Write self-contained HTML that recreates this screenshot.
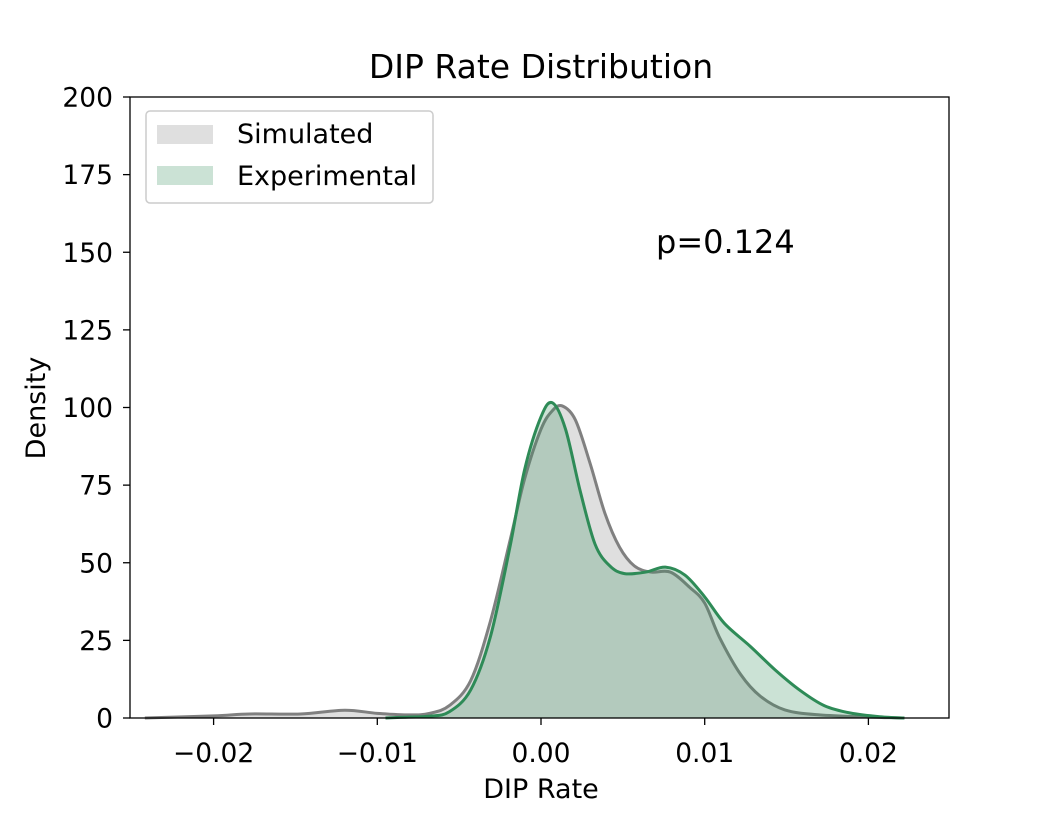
<!DOCTYPE html>
<html><head><meta charset="utf-8"><style>
body{margin:0;background:#fff;}
svg text{font-family:"DejaVu Sans","Liberation Sans",sans-serif;}
</style></head><body>
<svg id="chart" width="1056" height="808" viewBox="0 0 1056 808">
<rect width="1056" height="808" fill="#fff"/>
<g id="marks"></g>
<rect x="130" y="97" width="819" height="621" fill="none" stroke="#000" stroke-width="1.3"/>
<g id="xticks"></g><g id="yticks"></g>
<text x="541" y="78" font-size="33" text-anchor="middle">DIP Rate Distribution</text>
<text x="541" y="798" font-size="27" text-anchor="middle">DIP Rate</text>
<text transform="translate(45,408) rotate(-90)" font-size="27" text-anchor="middle">Density</text>
<text x="656" y="253" font-size="32">p=0.124</text>
<g>
<rect x="146" y="111" width="287" height="92" rx="4" fill="#fff" stroke="#ccc" stroke-width="1.5"/>
<g>
<rect x="157" y="125" width="56" height="19" fill="#808080" fill-opacity="0.25"/>
<text x="237" y="143" font-size="27">Simulated</text></g>
<g>
<rect x="157" y="166" width="56" height="19" fill="#2e8b57" fill-opacity="0.25"/>
<text x="237" y="185" font-size="27">Experimental</text></g>
</g>
</svg>
<script>
const simX=[-0.0242,-0.020,-0.0178,-0.0147,-0.012,-0.010,-0.008,-0.0068,-0.0056,-0.0043,-0.0031,-0.0019,-0.001,0,0.0007,0.0013,0.0021,0.003,0.0039,0.0048,0.0057,0.0067,0.0079,0.0091,0.010,0.0109,0.0122,0.0134,0.0149,0.017,0.0201,0.0222];
const simY=[0,0.7,1.3,1.3,2.5,1.5,1,1.5,4,12,31,57,77,93,99,100.5,96,82,66,55,49,47,47,42,37,26,14,7,2.6,1,0.3,0];
const expX=[-0.0095,-0.0086,-0.0068,-0.0056,-0.0043,-0.0031,-0.0019,-0.001,0,0.0007,0.0015,0.0024,0.0033,0.0042,0.0051,0.0064,0.0076,0.0088,0.010,0.0112,0.0128,0.0143,0.0158,0.0173,0.0189,0.0207,0.0222];
const expY=[0,0.2,0.6,2,9,26,55,80,97,101.5,93,73,56,49,46.5,47,48.6,46,39,30.5,23,15.5,9,4,1.6,0.4,0];
const xTicks=[-0.02,-0.01,0,0.01,0.02];
const xTickLabels=["\u22120.02","\u22120.01","0.00","0.01","0.02"];
const yTicks=[0,25,50,75,100,125,150,175,200];
const NS="http://www.w3.org/2000/svg";
const xs=v=>541+v*16370;
const ys=v=>718-v*3.105;
function smooth(pts){let d="M"+pts[0][0]+","+pts[0][1];
for(let i=0;i<pts.length-1;i++){const p0=pts[Math.max(0,i-1)],p1=pts[i],p2=pts[i+1],p3=pts[Math.min(pts.length-1,i+2)];
const c1=[p1[0]+(p2[0]-p0[0])/6,p1[1]+(p2[1]-p0[1])/6],c2=[p2[0]-(p3[0]-p1[0])/6,p2[1]-(p3[1]-p1[1])/6];
d+=" C"+c1[0].toFixed(2)+","+Math.min(718,c1[1]).toFixed(2)+" "+c2[0].toFixed(2)+","+Math.min(718,c2[1]).toFixed(2)+" "+p2[0].toFixed(2)+","+p2[1].toFixed(2);}
return d;}
const marks=document.getElementById('marks');
function series(X,Y,color,name){const pts=X.map((x,i)=>[xs(x),ys(Y[i])]);const d=smooth(pts);
const f=document.createElementNS(NS,'path');f.setAttribute('d',d+" L"+pts[pts.length-1][0]+",718 L"+pts[0][0]+",718 Z");
f.setAttribute('fill',color);f.setAttribute('fill-opacity','0.25');


marks.appendChild(f);
const l=document.createElementNS(NS,'path');l.setAttribute('d',d);l.setAttribute('fill','none');l.setAttribute('stroke',color);l.setAttribute('stroke-width','3');


marks.appendChild(l);}
series(simX,simY,'#808080','simulated');
series(expX,expY,'#2e8b57','experimental');
const xg=document.getElementById('xticks');
xTicks.forEach((v,i)=>{const x=xs(v);
const t=document.createElementNS(NS,'line');t.setAttribute('x1',x);t.setAttribute('x2',x);t.setAttribute('y1',718);t.setAttribute('y2',725);t.setAttribute('stroke','#000');t.setAttribute('stroke-width','1.3');


xg.appendChild(t);
const s=document.createElementNS(NS,'text');s.setAttribute('x',x);s.setAttribute('y',762);s.setAttribute('font-size','26.5');s.setAttribute('text-anchor','middle');s.textContent=xTickLabels[i];


xg.appendChild(s);});
const yg=document.getElementById('yticks');
yTicks.forEach(v=>{const y=ys(v);
const t=document.createElementNS(NS,'line');t.setAttribute('x1',123);t.setAttribute('x2',130);t.setAttribute('y1',y);t.setAttribute('y2',y);t.setAttribute('stroke','#000');t.setAttribute('stroke-width','1.3');


yg.appendChild(t);
const s=document.createElementNS(NS,'text');s.setAttribute('x',113);s.setAttribute('y',y+9.5);s.setAttribute('font-size','26.5');s.setAttribute('text-anchor','end');s.textContent=v;


yg.appendChild(s);});
</script>
</body></html>
